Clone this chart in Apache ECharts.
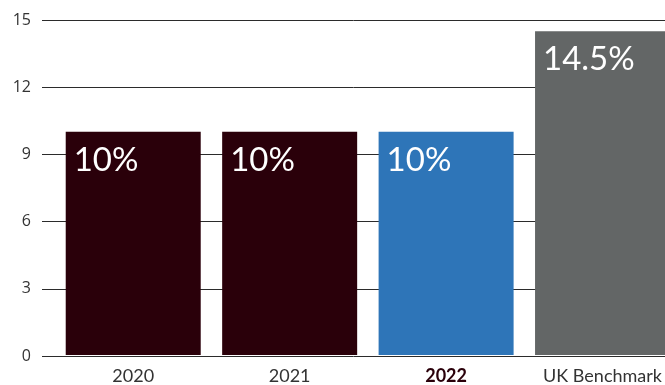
<!DOCTYPE html>
<html>
<head>
<meta charset="utf-8">
<script src="https://cdn.jsdelivr.net/npm/echarts@6/dist/echarts.min.js"></script>
<style>
  html, body { margin: 0; padding: 0; background: #fff; }
  #chart { width: 665px; height: 385px; }
</style>
</head>
<body>
<div id="chart"></div>
<script>
// Chart data
const categories = ['2020', '2021', '2022', 'UK Benchmark'];
const values = [10, 10, 10, 14.5];
const barColors = ['#2a000a', '#2a000a', '#2e75b8', '#636666'];
const yTicks = [0, 3, 6, 9, 12, 15];

const chart = echarts.init(document.getElementById('chart'), null, { renderer: 'canvas' });

const yMin = yTicks[0];
const yMax = yTicks[yTicks.length - 1];
const yStep = yTicks[1] - yTicks[0];

// the last category is cut off by the right edge, so the bar axis is a
// numeric slot axis whose visible range ends partway through the last slot
const slotPx = 157;
const barsLeft = 55;
const chartWidth = 665;
const slotMax = (chartWidth - barsLeft) / slotPx - 0.5;
const slotIndex = categories.map(function (c, i) { return i; });

chart.setOption({
  animation: false,
  // grid 0 carries the value scale and horizontal rules; grid 1 carries the bars
  grid: [
    { left: 42, right: 0, top: 20, bottom: 29 },
    { left: barsLeft, right: 0, top: 20, bottom: 29 }
  ],
  xAxis: [
    { gridIndex: 0, type: 'category', data: categories, show: false },
    {
      gridIndex: 1,
      type: 'value',
      min: -0.5,
      max: slotMax,
      axisLine: { show: false },
      axisTick: { show: false },
      splitLine: { show: false },
      axisLabel: {
        customValues: slotIndex,
        margin: 12,
        fontFamily: 'Lato',
        fontSize: 18,
        color: '#333',
        formatter: function (v) {
          const name = categories[Math.round(v)];
          return name === '2022' ? '{hl|' + name + '}' : name;
        },
        rich: {
          hl: { fontFamily: 'Lato', fontSize: 18, fontWeight: 'bold', color: '#2a000a' }
        }
      }
    }
  ],
  yAxis: [
    {
      gridIndex: 0,
      type: 'value',
      min: yMin,
      max: yMax,
      interval: yStep,
      axisLine: { show: false },
      axisTick: { show: false },
      axisLabel: { margin: 11, fontFamily: 'Open Sans', fontSize: 16, color: '#333' },
      splitLine: { lineStyle: { color: '#2b2b2b', width: 1 } }
    },
    {
      gridIndex: 1,
      type: 'value',
      min: yMin,
      max: yMax,
      interval: yStep,
      show: false
    }
  ],
  series: [
    {
      type: 'bar',
      xAxisIndex: 1,
      yAxisIndex: 1,
      barWidth: 135,
      data: values.map(function (v, i) {
        return { value: [slotIndex[i], v], itemStyle: { color: barColors[i] } };
      }),
      label: {
        show: true,
        position: 'insideTopLeft',
        distance: 0,
        offset: [8, 12],
        fontFamily: 'Lato',
        fontSize: 33,
        color: '#fff',
        formatter: function (p) { return p.value[1] + '%'; }
      }
    }
  ]
});
</script>
</body>
</html>
